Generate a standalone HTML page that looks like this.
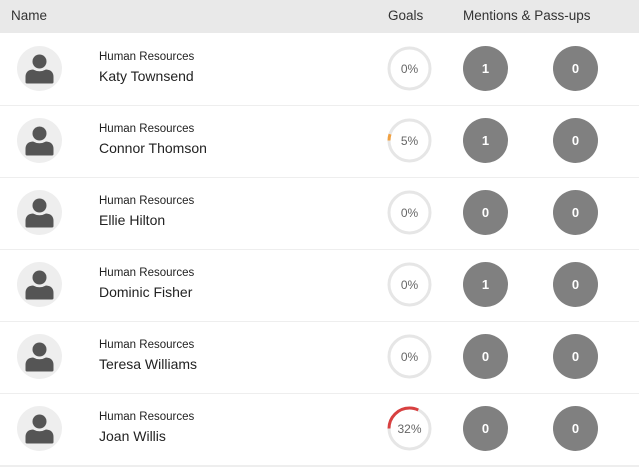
<!DOCTYPE html>
<html><head><meta charset="utf-8"><style>
body{margin:0;width:639px;height:475px;background:#fff;font-family:"Liberation Sans",sans-serif;overflow:hidden;position:relative}
.hdr{position:absolute;left:0;top:0;width:639px;height:33px;background:#e9e9e9;font-size:13.5px;color:#333}
.hdr span{position:absolute;top:8px}
.row{position:absolute;left:0;width:639px;height:72px;border-bottom:1px solid #eee}
.dept{position:absolute;left:99px;top:18px;font-size:11.5px;color:#222}
.name{position:absolute;left:99px;top:35px;font-size:14px;color:#222}
.c{position:absolute;top:13px;width:45px;height:45px;border-radius:50%;background:#808080;color:#fff;font-weight:bold;font-size:13px;text-align:center;line-height:45px}
svg{position:absolute}
</style></head><body>
<div class="hdr"><span style="left:11px">Name</span><span style="left:388px">Goals</span><span style="left:463px">Mentions &amp; Pass-ups</span></div>
<div id="rows"></div>
<script>
var d=[["Katy Townsend",0,1,0],["Connor Thomson",5,1,0],["Ellie Hilton",0,0,0],["Dominic Fisher",0,1,0],["Teresa Williams",0,0,0],["Joan Willis",32,0,0]];
var h="";
d.forEach(function(r,i){
var top=33+i*72;var p=r[1];var col=p>20?"#d84040":"#f0a040";
var C=2*Math.PI*20.5;
var arc=p>0?'<circle cx="22.5" cy="22.5" r="20.5" fill="none" stroke="'+col+'" stroke-width="3" stroke-dasharray="'+(C*p/100)+' '+C+'" transform="rotate(180 22.5 22.5)"/>':'';
h+='<div class="row" style="top:'+top+'px'+(i==5?';border-bottom:2px solid #eee':'')+'">'+
'<svg style="left:17px;top:13px" width="45" height="45"><circle cx="22.5" cy="22.5" r="22.5" fill="#eee"/><circle cx="22.5" cy="15.5" r="7" fill="#555"/><path d="M8.5 36 V31 Q8.5 24 16 23.5 Q22.5 27 29 23.5 Q36.5 24 36.5 31 V36 Q36.5 37.5 35 37.5 H10 Q8.5 37.5 8.5 36Z" fill="#555"/></svg>'+
'<div class="dept">Human Resources</div><div class="name">'+r[0]+'</div>'+
'<svg style="left:387px;top:13px" width="45" height="45"><circle cx="22.5" cy="22.5" r="20.5" fill="none" stroke="#e6e6e6" stroke-width="3"/>'+arc+'<text x="22.5" y="27" text-anchor="middle" font-size="12" fill="#666" font-family="Liberation Sans">'+p+'%</text></svg>'+
'<div class="c" style="left:463px">'+r[2]+'</div><div class="c" style="left:553px">'+r[3]+'</div></div>';
});
document.getElementById("rows").innerHTML=h;
</script>
</body></html>
